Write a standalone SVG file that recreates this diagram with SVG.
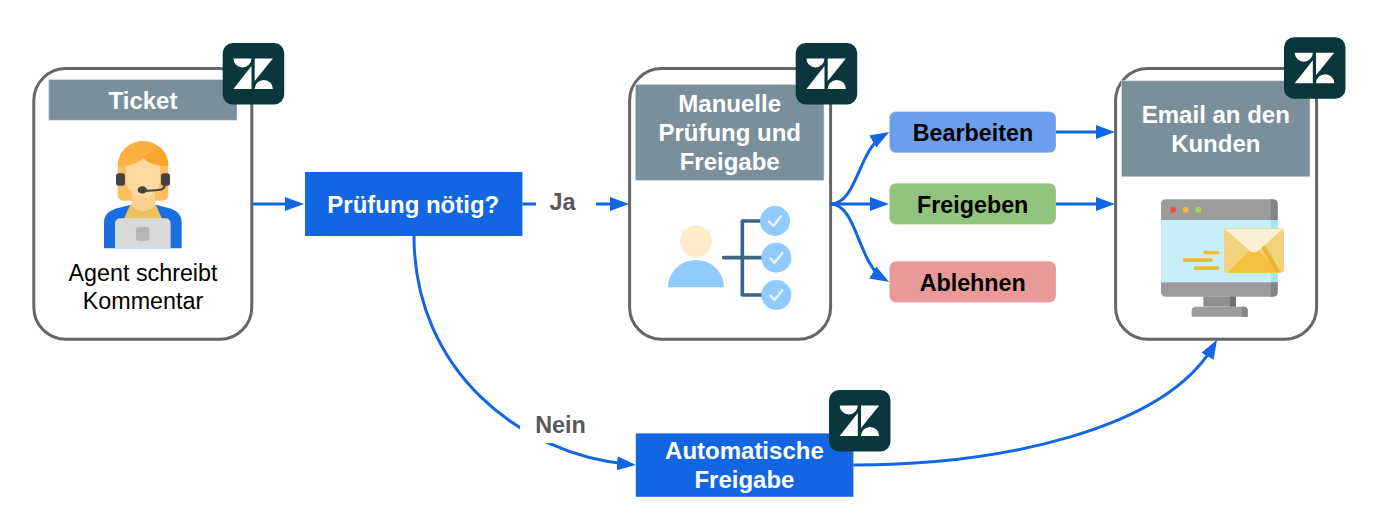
<svg xmlns="http://www.w3.org/2000/svg" width="1376" height="522" viewBox="0 0 1376 522">
  <style>
    text { font-family: "Liberation Sans", Arial, sans-serif; text-anchor: middle; }
    .card { fill: #fff; stroke: #666; stroke-width: 3; }
    .head { fill: #7a8f9c; stroke: #d5dce1; stroke-width: .6; }
    .headtxt { fill: #fff; font-size: 24px; font-weight: 700; }
    .step { fill: #1366e2; }
    .steptxt { fill: #fff; font-size: 24px; font-weight: 700; }
    .btn { stroke: #fff; stroke-opacity: .35; stroke-width: .8; }
    .btntxt { fill: #000; font-size: 23.3px; font-weight: 700; }
    .body { fill: #000; font-size: 23.3px; }
    .edge { fill: none; stroke: #1366e2; stroke-width: 3; marker-end: url(#tip); }
    .elabel { fill: #595959; font-size: 23.4px; font-weight: 700; }
    .ztile { fill: #0a373c; }
    .zglyph { fill: #fff; }
  </style>
  <defs>
    <marker id="tip" markerUnits="userSpaceOnUse" markerWidth="20" markerHeight="16" refX="13" refY="7.5" orient="auto">
      <path d="M0 .5 L19 7.5 L0 14.5 Z" fill="#1366e2"/>
    </marker>
    <!-- Zendesk tile, 61 x 61 -->
    <g id="zendesk">
      <rect class="ztile" width="61.5" height="61.5" rx="10"/>
      <path class="zglyph" d="M10.7 15.4H28.8A9.05 9.05 0 0 1 10.7 15.4Z"/>
      <path class="zglyph" d="M28.8 23V46H10.7Z"/>
      <path class="zglyph" d="M32 15.4H50.2L32 38Z"/>
      <path class="zglyph" d="M32 46A9.1 9.1 0 0 1 50.2 46Z"/>
    </g>
  </defs>

  <rect width="1376" height="522" fill="#fff"/>

  <g id="ticket">
    <rect class="card" x="33.8" y="68.6" width="218" height="270.6" rx="32"/>
    <rect class="head" x="48.8" y="79.6" width="188.2" height="40.6"/>
    <text class="headtxt" x="143" y="108.8">Ticket</text>
    <!-- support agent with headset -->
    <g transform="translate(90 130) scale(.3333)">
      <path d="M42 355V278C42 252 60 240 85 234L122 224H198L235 234C258 240 275 252 275 278V355Z" fill="#1a6fe0"/>
      <path d="M120 226H198L218 270H100Z" fill="#edc05f"/>
      <path d="M83 108A76 75 0 0 1 235 108V192Q235 212 215 212H103Q83 212 83 192Z" fill="#fdbf5e"/>
      <path d="M83 108A76 75 0 0 1 235 108C205 108 178 100 160 84C142 100 113 108 83 108Z" fill="#fbb040"/>
      <path d="M235 108C205 108 178 100 160 84C172 72 186 58 204 48C224 62 235 84 235 108Z" fill="#f9a62f"/>
      <path d="M125 190H195V225C185 248 135 248 125 225Z" fill="#fcd08f"/>
      <path d="M108 108C130 106 148 98 160 85C172 98 188 106 210 108V150C210 180 185 200 159 200C133 200 108 180 108 150Z" fill="#fdd9a0"/>
      <path d="M75 355V282Q75 265 92 265H225Q242 265 242 282V355Z" fill="#d9d9d9"/>
      <rect x="138" y="290" width="40" height="42" rx="8" fill="#b5b5b5"/>
      <rect x="78" y="130" width="27" height="37" rx="8" fill="#444"/>
      <rect x="213" y="130" width="27" height="37" rx="8" fill="#444"/>
      <path d="M226 160Q224 180 205 180L165 183" fill="none" stroke="#444" stroke-width="6"/>
      <ellipse cx="157" cy="180" rx="14" ry="11" fill="#444"/>
    </g>
    <text class="body" x="143" y="281.4">Agent schreibt</text>
    <text class="body" x="143" y="309.4">Kommentar</text>
    <use href="#zendesk" x="222.7" y="43"/>
  </g>

  <g id="check">
    <rect class="step" x="305" y="172" width="217.4" height="64"/>
    <text class="steptxt" x="413.3" y="212.6">Prüfung nötig?</text>
  </g>

  <g id="review">
    <rect class="card" x="629.6" y="68.6" width="201" height="270.6" rx="32"/>
    <rect class="head" x="635.4" y="84.4" width="188.6" height="96"/>
    <text class="headtxt" x="729.7" y="112.2">Manuelle</text>
    <text class="headtxt" x="729.7" y="141.2">Prüfung und</text>
    <text class="headtxt" x="729.7" y="170">Freigabe</text>
    <!-- reviewer with three approved items -->
    <g transform="translate(655 195) scale(.3333)">
      <circle cx="123" cy="139" r="48" fill="#ffeccc"/>
      <path d="M39 277A84 82 0 0 1 207 277Z" fill="#90caff"/>
      <path d="M206 188H325M325 78H262V300H325" fill="none" stroke="#3d6485" stroke-width="11" stroke-linecap="round" stroke-linejoin="round"/>
      <circle cx="360" cy="78" r="45" fill="#90caff"/>
      <circle cx="364" cy="188" r="45" fill="#90caff"/>
      <circle cx="364" cy="300" r="45" fill="#90caff"/>
      <path d="M342 80L355 93L378 64M346 190L359 203L382 174M346 302L359 315L382 286" fill="none" stroke="#eaf4fc" stroke-width="7" stroke-linecap="round" stroke-linejoin="round"/>
    </g>
    <use href="#zendesk" x="795.7" y="43"/>
  </g>

  <g id="edit">
    <rect class="btn" x="889.4" y="111.6" width="166.6" height="41.2" rx="6.5" fill="#6d9eeb"/>
    <text class="btntxt" x="973" y="141">Bearbeiten</text>
  </g>
  <g id="approve">
    <rect class="btn" x="889.4" y="183.2" width="166.6" height="41.2" rx="6.5" fill="#93c47d"/>
    <text class="btntxt" x="972.7" y="212.8">Freigeben</text>
  </g>
  <g id="reject">
    <rect class="btn" x="889.4" y="261.2" width="166.6" height="41.2" rx="6.5" fill="#ea9999"/>
    <text class="btntxt" x="972.7" y="291.2">Ablehnen</text>
  </g>

  <g id="email">
    <rect class="card" x="1115.6" y="68.6" width="201" height="270.6" rx="32"/>
    <rect class="head" x="1121.7" y="80.8" width="188.3" height="96"/>
    <text class="headtxt" x="1215.8" y="122.6">Email an den</text>
    <text class="headtxt" x="1215.8" y="151.8">Kunden</text>
    <!-- monitor with outgoing envelope -->
    <g transform="translate(1150 190) scale(.3333)">
      <path d="M33 90V43Q33 28 48 28H368Q383 28 383 43V90Z" fill="#9c9c9c"/>
      <path d="M362 90V28H368Q383 28 383 43V90Z" fill="#858585"/>
      <rect x="33" y="90" width="350" height="187" fill="#c8eefc"/>
      <rect x="362" y="90" width="21" height="187" fill="#a5e5fb"/>
      <path d="M33 277H383V305Q383 320 368 320H48Q33 320 33 305Z" fill="#9c9c9c"/>
      <path d="M362 277H383V305Q383 320 368 320H362Z" fill="#858585"/>
      <rect x="160" y="320" width="98" height="30" fill="#8e8e8e"/>
      <rect x="240" y="320" width="18" height="30" fill="#6f6f6f"/>
      <path d="M125 380V362Q125 350 137 350H281Q293 350 293 362V380Z" fill="#9c9c9c"/>
      <path d="M275 380V350H281Q293 350 293 362V380Z" fill="#858585"/>
      <circle cx="69" cy="59" r="9" fill="#ea5050"/>
      <circle cx="107" cy="59" r="9" fill="#f2b93d"/>
      <circle cx="145" cy="59" r="9" fill="#a5d84a"/>
      <rect x="160" y="182" width="48" height="11" rx="5" fill="#f1b92f"/>
      <rect x="98" y="205" width="90" height="11" rx="5" fill="#f1b92f"/>
      <rect x="131" y="229" width="77" height="11" rx="5" fill="#f1b92f"/>
      <rect x="222" y="115" width="180" height="133" rx="9" fill="#f2d27a"/>
      <path d="M232 248L312 168L392 248Z" fill="#f4c03f"/>
      <path d="M333 170L345 166L392 246L378 248Z" fill="#ebb532"/>
      <path d="M226 117H398L325 182Q312 192 299 182Z" fill="#faf0d5"/>
    </g>
    <use href="#zendesk" x="1284" y="37.3"/>
  </g>

  <g id="auto">
    <rect class="step" x="635.8" y="433.4" width="217.6" height="63.4"/>
    <text class="steptxt" x="744.4" y="459">Automatische</text>
    <text class="steptxt" x="744.4" y="488">Freigabe</text>
    <use href="#zendesk" x="829" y="390"/>
  </g>

  <g id="connectors">
    <path class="edge" d="M252 204H298"/>
    <path class="edge" d="M522.4 204H623"/>
    <path class="edge" d="M414 236C414 370 520 455 630 464.4"/>
    <path class="edge" d="M830.6 204C857 204 858 150 884 135"/>
    <path class="edge" d="M830.6 204H883"/>
    <path class="edge" d="M830.6 204C857 204 858 264 884 279"/>
    <path class="edge" d="M1056 132H1109"/>
    <path class="edge" d="M1056 204H1109"/>
    <path class="edge" d="M853.4 465C1000 465 1165 430 1214 345"/>
    <rect x="536" y="186" width="60" height="36" fill="#fff"/>
    <text class="elabel" x="562.5" y="210">Ja</text>
    <rect x="520" y="411" width="78" height="32" fill="#fff"/>
    <text class="elabel" x="560.5" y="432.8">Nein</text>
  </g>
</svg>
